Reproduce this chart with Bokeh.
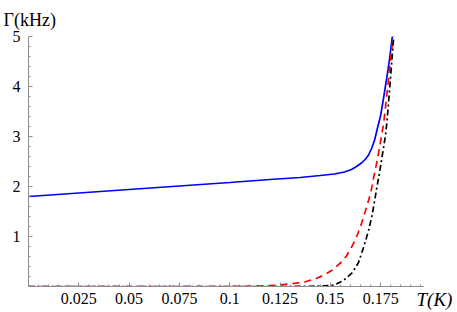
from bokeh.plotting import figure
from bokeh.models import FixedTicker, Range1d, LinearAxis, Title
from bokeh.embed import file_html
from bokeh.resources import INLINE

# ---- data ----
T_blue = [0.0, 0.025, 0.05, 0.075, 0.1, 0.12, 0.135, 0.145, 0.152, 0.157, 0.1605,
          0.163, 0.1655, 0.1675, 0.169, 0.1705, 0.172, 0.1735, 0.175, 0.1765, 0.178,
          0.1795, 0.1808]
G_blue = [1.80, 1.87, 1.94, 2.01, 2.08, 2.14, 2.18, 2.22, 2.25, 2.29, 2.34,
          2.40, 2.47, 2.55, 2.63, 2.76, 2.93, 3.18, 3.42, 3.78, 4.16,
          4.57, 5.0]

T_red = [0.0, 0.05, 0.1, 0.115, 0.125, 0.132, 0.138, 0.143, 0.147, 0.151, 0.155,
         0.158, 0.161, 0.1635, 0.1655, 0.1675, 0.170, 0.1716, 0.1733, 0.1749,
         0.1765, 0.1785, 0.180, 0.1812]
G_red = [0.0, 0.0, 0.0, 0.01, 0.03, 0.06, 0.10, 0.16, 0.23, 0.33, 0.47,
         0.61, 0.82, 1.04, 1.26, 1.52, 1.86, 2.19, 2.52, 2.89,
         3.26, 3.98, 4.55, 5.0]

T_black = [0.0, 0.1, 0.13, 0.14, 0.147, 0.152, 0.1565, 0.161, 0.164, 0.1665,
           0.169, 0.1705, 0.1716, 0.1733, 0.1749, 0.1761, 0.1774, 0.1782,
           0.1795, 0.1805, 0.1815]
G_black = [0.0, 0.0, 0.0, 0.005, 0.012, 0.03, 0.12, 0.28, 0.48, 0.78,
           1.12, 1.38, 1.62, 2.02, 2.39, 2.69, 3.02, 3.32,
           3.96, 4.48, 5.0]

x_ticks = [0.025, 0.05, 0.075, 0.1, 0.125, 0.15, 0.175]
x_tick_labels = ["0.025", "0.05", "0.075", "0.1", "0.125", "0.15", "0.175"]
x_minor = [i * 0.005 for i in range(1, 40)]
y_ticks = [1, 2, 3, 4, 5]
y_tick_labels = ["1", "2", "3", "4", "5"]
y_minor = [i * 0.2 for i in range(1, 25)]

x_title = "T(K)"
y_title = "Γ(kHz)"

X_MAX = 0.1963
FONT = "Liberation Serif"

p = figure(width=457, height=312, output_backend="svg", toolbar_location=None,
           x_range=Range1d(0, X_MAX), y_range=Range1d(0, 5),
           min_border_left=28, min_border_right=34, min_border_top=36,
           min_border_bottom=26)
p.outline_line_color = None
p.grid.visible = False
p.background_fill_color = "white"
p.border_fill_color = "white"

axis_col = "#8c8c8c"
for ax in (p.xaxis[0], p.yaxis[0]):
    ax.axis_line_color = axis_col
    ax.axis_line_width = 1
    ax.major_tick_line_color = axis_col
    ax.minor_tick_line_color = axis_col
    ax.major_tick_in = 4
    ax.major_tick_out = 0
    ax.minor_tick_in = 2
    ax.minor_tick_out = 0
    ax.major_label_text_font = FONT
    ax.major_label_text_font_size = "16px"
    ax.major_label_text_color = "black"

p.xaxis[0].ticker = FixedTicker(ticks=x_ticks, minor_ticks=x_minor)
p.xaxis[0].major_label_overrides = {t: l for t, l in zip(x_ticks, x_tick_labels)}
p.xaxis[0].major_label_standoff = 6
p.yaxis[0].ticker = FixedTicker(ticks=y_ticks, minor_ticks=y_minor)
p.yaxis[0].major_label_overrides = {t: l for t, l in zip(y_ticks, y_tick_labels)}
p.yaxis[0].major_label_standoff = 8

# x-axis title at the right end, level with the tick labels (Mathematica style)
p.extra_y_ranges = {"lab": Range1d(0, 5)}
tax = LinearAxis(y_range_name="lab", ticker=FixedTicker(ticks=[0]),
                 major_label_overrides={0: "\n" + x_title})
tax.axis_line_color = None
tax.major_tick_line_color = None
tax.minor_tick_line_color = None
tax.major_tick_in = 0
tax.major_tick_out = 0
tax.major_label_standoff = -7
tax.major_label_text_font = FONT
tax.major_label_text_font_size = "19px"
tax.major_label_text_font_style = "italic"
tax.major_label_text_color = "black"
tax.major_label_text_line_height = 1.2
p.add_layout(tax, "right")

# y-axis title at the top-left
p.add_layout(Title(text=y_title, align="left", offset=-25, standoff=14,
                   text_font=FONT, text_font_size="18px", text_font_style="normal",
                   text_color="black"), "above")

p.line(T_blue, G_blue, line_color="#0000ff", line_width=1.7)
p.line(T_red, G_red, line_color="#ff0000", line_width=1.7, line_dash="7 5")
p.line(T_black, G_black, line_color="black", line_width=1.7, line_dash="6 3 2 3")

open("out.html", "w").write(file_html(p, INLINE))
